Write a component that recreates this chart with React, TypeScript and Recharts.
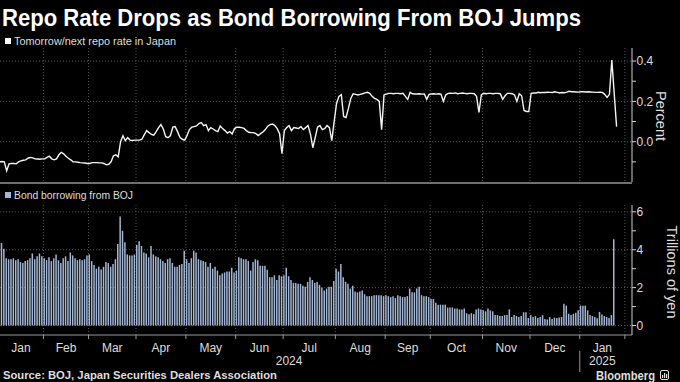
import React from 'react';
import { ComposedChart, Line, Bar, XAxis, YAxis, CartesianGrid } from 'recharts';

const FONT = '"Liberation Sans", Arial, sans-serif';
const AXIS = '#9a9a9a';
const YAXIS = '#d0d0d0';
const GRID = '#555555';
const TEXT = '#dedede';
const BAR = '#a3b7d5';

// ---- categories ----
const monthNames = ['Jan', 'Feb', 'Mar', 'Apr', 'May', 'Jun', 'Jul', 'Aug', 'Sep', 'Oct', 'Nov', 'Dec', 'Jan'];
const monthYear = [0, 0, 0, 0, 0, 0, 0, 0, 0, 0, 0, 0, 1];
const yearNames = ['2024', '2025'];
// trading days shown per month (Jan 2024 starts Jan 4)
const businessDaysPerMonth = [19, 19, 20, 21, 21, 20, 22, 21, 19, 22, 20, 21, 19];

// ---- Tomorrow/next repo rate in Japan (%) ----
const repoJan24 = [-0.1, -0.098, -0.1, -0.145, -0.11, -0.108, -0.108, -0.11, -0.1, -0.095, -0.092, -0.09, -0.082, -0.078, -0.08, -0.085, -0.086, -0.087, -0.085];
const repoFeb24 = [-0.085, -0.078, -0.072, -0.085, -0.09, -0.085, -0.065, -0.053, -0.06, -0.072, -0.082, -0.09, -0.1, -0.1, -0.102, -0.104, -0.105, -0.106, -0.108];
const repoMar24 = [-0.108, -0.104, -0.104, -0.104, -0.105, -0.105, -0.108, -0.115, -0.112, -0.1, -0.07, -0.065, -0.075, 0.0, 0.03, 0.005, 0.02, 0.008, 0.006, 0.008];
const repoApr24 = [0.008, 0.008, 0.012, 0.035, 0.055, 0.045, 0.036, 0.032, 0.05, 0.07, 0.085, 0.063, 0.025, 0.02, 0.03, 0.072, 0.075, 0.05, 0.022, 0.012, 0.008];
const repoMay24 = [0.03, 0.06, 0.072, 0.075, 0.078, 0.09, 0.095, 0.08, 0.085, 0.055, 0.07, 0.063, 0.055, 0.05, 0.078, 0.065, 0.055, 0.043, 0.05, 0.038, 0.065];
const repoJun24 = [0.072, 0.072, 0.07, 0.066, 0.055, 0.047, 0.045, 0.045, 0.04, 0.03, 0.04, 0.048, 0.06, 0.077, 0.085, 0.088, 0.08, 0.065, 0.04, -0.06];
const repoJul24 = [0.055, 0.07, 0.08, 0.055, 0.07, 0.068, 0.065, 0.075, 0.06, 0.07, 0.08, 0.038, -0.03, 0.02, 0.072, 0.08, 0.06, 0.065, 0.08, 0.07, 0.005, 0.1];
const repoAug24 = [0.19, 0.225, 0.233, 0.125, 0.12, 0.165, 0.215, 0.238, 0.235, 0.232, 0.235, 0.238, 0.242, 0.245, 0.24, 0.225, 0.215, 0.21, 0.2, 0.06, 0.232];
const repoSep24 = [0.236, 0.24, 0.24, 0.238, 0.24, 0.24, 0.238, 0.24, 0.225, 0.21, 0.245, 0.238, 0.237, 0.237, 0.238, 0.236, 0.237, 0.21, 0.235];
const repoOct24 = [0.237, 0.238, 0.236, 0.238, 0.236, 0.2, 0.232, 0.24, 0.241, 0.24, 0.242, 0.238, 0.24, 0.242, 0.24, 0.238, 0.24, 0.24, 0.238, 0.225, 0.145, 0.232];
const repoNov24 = [0.24, 0.238, 0.24, 0.24, 0.238, 0.24, 0.24, 0.238, 0.21, 0.228, 0.24, 0.24, 0.238, 0.232, 0.2, 0.238, 0.228, 0.155, 0.15, 0.15];
const repoDec24 = [0.24, 0.242, 0.242, 0.245, 0.243, 0.245, 0.244, 0.246, 0.245, 0.244, 0.248, 0.245, 0.242, 0.244, 0.243, 0.246, 0.25, 0.248, 0.248, 0.247, 0.246];
const repoJan25 = [0.248, 0.248, 0.247, 0.248, 0.247, 0.246, 0.245, 0.245, 0.246, 0.244, 0.235, 0.22, 0.235, 0.405, 0.24, 0.075];

// ---- Bond borrowing from BOJ (trillions of yen) ----
const bondJan24 = [4.5, 4.35, 4.05, 3.55, 3.5, 3.5, 3.55, 3.45, 3.5, 3.35, 3.3, 3.4, 3.45, 3.55, 3.8, 3.5, 3.65, 3.8, 3.65];
const bondFeb24 = [3.55, 3.45, 3.6, 3.4, 3.55, 3.75, 3.45, 3.3, 3.55, 3.65, 3.4, 3.85, 3.7, 3.55, 3.45, 3.5, 3.45, 3.5, 3.7];
const bondMar24 = [3.75, 3.4, 3.2, 3.0, 3.1, 2.95, 3.1, 3.35, 3.3, 3.1, 3.25, 3.5, 4.3, 5.75, 5.0, 4.4, 3.75, 3.7, 3.7, 3.75];
const bondApr24 = [4.25, 4.45, 4.2, 3.85, 3.8, 3.6, 4.2, 3.75, 3.65, 3.6, 3.5, 3.4, 3.3, 3.5, 3.55, 3.3, 3.1, 3.1, 3.2, 3.25, 3.95];
const bondMay24 = [3.5, 3.3, 3.55, 3.95, 3.85, 3.5, 3.45, 3.4, 3.35, 3.1, 3.3, 3.0, 3.1, 2.9, 2.65, 2.75, 2.8, 2.85, 2.85, 3.05, 2.8];
const bondJun24 = [2.9, 3.6, 3.55, 3.5, 3.5, 3.4, 2.9, 3.35, 3.5, 3.45, 3.15, 3.15, 3.15, 2.95, 2.55, 2.55, 2.65, 2.4, 2.65, 2.6];
const bondJul24 = [2.65, 3.05, 2.6, 2.4, 2.25, 2.25, 2.2, 2.2, 2.1, 2.05, 2.3, 2.55, 2.4, 2.25, 2.3, 2.15, 2.0, 1.85, 1.95, 2.05, 2.05, 2.35];
const bondAug24 = [3.0, 2.85, 3.25, 2.55, 2.3, 2.2, 1.95, 2.1, 1.8, 1.75, 1.8, 1.85, 1.65, 1.55, 1.55, 1.55, 1.6, 1.6, 1.6, 1.6, 1.55];
const bondSep24 = [1.6, 1.55, 1.5, 1.55, 1.45, 1.6, 1.55, 1.5, 1.5, 1.55, 1.95, 1.75, 1.75, 1.95, 2.05, 1.6, 1.55, 1.55, 1.5];
const bondOct24 = [1.4, 1.4, 1.2, 1.1, 1.1, 1.1, 1.1, 0.95, 0.95, 0.95, 0.9, 0.9, 0.85, 0.85, 0.9, 0.65, 0.6, 0.65, 0.6, 0.85, 0.9, 0.85];
const bondNov24 = [0.8, 0.75, 0.9, 0.8, 0.75, 0.55, 0.55, 0.5, 0.5, 0.55, 0.55, 0.85, 0.45, 0.55, 0.5, 0.45, 0.5, 0.7, 0.7, 0.4];
const bondDec24 = [0.55, 0.45, 0.5, 0.4, 0.45, 0.55, 0.35, 0.32, 0.45, 0.35, 0.42, 0.4, 0.42, 0.45, 1.15, 1.05, 0.62, 0.55, 0.62, 0.68, 0.8];
const bondJan25 = [1.05, 1.05, 1.05, 0.8, 0.55, 0.5, 0.45, 0.38, 0.72, 0.58, 0.5, 0.45, 0.4, 0.55, 4.55];

const repoRate = [repoJan24, repoFeb24, repoMar24, repoApr24, repoMay24, repoJun24, repoJul24, repoAug24, repoSep24, repoOct24, repoNov24, repoDec24, repoJan25];
const bondBorrowing = [bondJan24, bondFeb24, bondMar24, bondApr24, bondMay24, bondJun24, bondJul24, bondAug24, bondSep24, bondOct24, bondNov24, bondDec24, bondJan25];

// ---- axis ticks ----
const repoTicks = [-0.1, 0, 0.1, 0.2, 0.3, 0.4];
const repoTickLabels = ['', '0.0', '', '0.2', '', '0.4'];
const repoGrid = [0, 0.2, 0.4];
const bondTicks = [0, 1, 2, 3, 4, 5, 6];
const bondTickLabels = ['0', '', '2', '', '4', '', '6'];
const bondGrid = [0, 2, 4, 6];

// ---- build table ----
type Row = { i: number; repo: number | null; bond: number | null };
const rows: Row[] = [];
const monthEdges: number[] = [];
const monthMids: number[] = [];
let cursor = 0;
businessDaysPerMonth.forEach((n, m) => {
  for (let k = 0; k < n; k++) {
    const r = repoRate[m][k];
    const b = bondBorrowing[m][k];
    if (r === undefined && b === undefined) continue;
    rows.push({ i: cursor + k, repo: r ?? null, bond: b ?? null });
  }
  monthMids.push(cursor - 0.5 + n / 2);
  cursor += n;
  monthEdges.push(cursor - 0.5);
});
const yearMids: number[] = yearNames.map((_, y) => {
  let lo = Infinity;
  let hi = -Infinity;
  let c = 0;
  businessDaysPerMonth.forEach((n, m) => {
    if (monthYear[m] === y) {
      lo = Math.min(lo, c - 0.5);
      hi = Math.max(hi, c + n - 0.5);
    }
    c += n;
  });
  return (lo + hi) / 2;
});
const xTicks = Array.from(new Set([...monthEdges, ...monthMids, ...yearMids])).sort((a, b) => a - b);

const X_DOMAIN: [number, number] = [0.19, 266.5];

const XTick = (props: any) => {
  const { x, y, payload } = props;
  const v = payload.value;
  const out: any[] = [];
  const e = monthEdges.indexOf(v);
  if (e >= 0) {
    out.push(<line key="t" x1={x} x2={x} y1={y} y2={y + 4} stroke={AXIS} strokeWidth={1} />);
    if (e < monthYear.length - 1 && monthYear[e] !== monthYear[e + 1]) {
      out.push(<line key="d" x1={x} x2={x} y1={y + 16} y2={y + 37} stroke={AXIS} strokeWidth={1} />);
    }
  }
  const m = monthMids.indexOf(v);
  if (m >= 0) {
    out.push(
      <text key="m" x={x} y={y + 12.5} dy="0.35em" textAnchor="middle" fontSize={12} fontFamily={FONT} fill={TEXT}>
        {monthNames[m]}
      </text>
    );
  }
  const yr = yearMids.indexOf(v);
  if (yr >= 0) {
    out.push(
      <text key="y" x={x} y={y + 25.5} dy="0.35em" textAnchor="middle" fontSize={12} fontFamily={FONT} fill={TEXT}>
        {yearNames[yr]}
      </text>
    );
  }
  return <g>{out}</g>;
};

const makeYTick = (ticks: number[], labels: string[]) => (props: any) => {
  const { x, y, payload } = props;
  const idx = ticks.indexOf(payload.value);
  const label = idx >= 0 ? labels[idx] : '';
  return (
    <g>
      <line x1={x} x2={x + 4} y1={y} y2={y} stroke={YAXIS} strokeWidth={1} />
      {label ? (
        <text x={x + 4.5} y={y} dy="0.36em" textAnchor="start" fontSize={12} fontFamily={FONT} fill={TEXT}>
          {label}
        </text>
      ) : null}
    </g>
  );
};
const RepoTick = makeYTick(repoTicks, repoTickLabels);
const BondTick = makeYTick(bondTicks, bondTickLabels);

export default function App() {
  return (
    <div style={{ position: 'relative', width: 680, height: 382, background: '#000', overflow: 'hidden', fontFamily: FONT }}>
      <style>{'body{margin:0;background:#000;}'}</style>

      <div style={{ position: 'absolute', left: 0, top: 48 }}>
        <ComposedChart width={680} height={134} data={rows} margin={{ top: 0, right: 0, bottom: 0, left: 0 }}>
          <CartesianGrid stroke={GRID} strokeDasharray="1 2" horizontalValues={repoGrid} verticalValues={monthEdges} />
          <XAxis type="number" dataKey="i" domain={X_DOMAIN} allowDataOverflow hide />
          <YAxis
            orientation="right"
            width={48}
            type="number"
            domain={[-0.2, 0.465]}
            allowDataOverflow
            ticks={repoTicks}
            interval={0}
            tick={RepoTick}
            tickLine={false}
            tickSize={0}
            tickMargin={0}
            axisLine={{ stroke: YAXIS, strokeWidth: 1 }}
          />
          <Line type="linear" dataKey="repo" stroke="#f4f4f4" strokeWidth={1.4} dot={false} activeDot={false} isAnimationActive={false} />
        </ComposedChart>
      </div>

      <div style={{ position: 'absolute', left: 0, top: 205 }}>
        <ComposedChart width={680} height={177} data={rows} margin={{ top: 0, right: 0, bottom: 0, left: 0 }}>
          <CartesianGrid stroke={GRID} strokeDasharray="1 2" horizontalValues={bondGrid} verticalValues={monthEdges} />
          <XAxis
            type="number"
            dataKey="i"
            domain={X_DOMAIN}
            allowDataOverflow
            ticks={xTicks}
            interval={0}
            tick={XTick}
            tickLine={false}
            tickSize={0}
            tickMargin={0}
            height={47}
            axisLine={{ stroke: AXIS, strokeWidth: 1 }}
          />
          <YAxis
            orientation="right"
            width={48}
            type="number"
            domain={[-0.5, 6.36]}
            allowDataOverflow
            ticks={bondTicks}
            interval={0}
            tick={BondTick}
            tickLine={false}
            tickSize={0}
            tickMargin={0}
            axisLine={{ stroke: YAXIS, strokeWidth: 1 }}
          />
          <Bar dataKey="bond" fill={BAR} barSize={1.5} isAnimationActive={false} />
        </ComposedChart>
      </div>

      <svg width={680} height={382} style={{ position: 'absolute', left: 0, top: 0, pointerEvents: 'none' }}>
        <text x={2} y={26} fontSize={23} fontWeight="bold" fontFamily={FONT} fill="#ffffff" textLength={579} lengthAdjust="spacingAndGlyphs">
          Repo Rate Drops as Bond Borrowing From BOJ Jumps
        </text>
        <rect x={5} y={38} width={6} height={6} fill="#ffffff" />
        <text x={14} y={45} fontSize={11} fontFamily={FONT} fill={TEXT} textLength={162} lengthAdjust="spacingAndGlyphs">
          Tomorrow/next repo rate in Japan
        </text>
        <rect x={0} y={182} width={632} height={2} fill="#707070" />
        <rect x={5} y={192} width={6} height={6} fill={BAR} />
        <text x={14} y={199} fontSize={11} fontFamily={FONT} fill={TEXT} textLength={119} lengthAdjust="spacingAndGlyphs">
          Bond borrowing from BOJ
        </text>
        <text x={656} y={116} transform="rotate(90 656 116)" textAnchor="middle" fontSize={14.5} fontFamily={FONT} fill={TEXT}>
          Percent
        </text>
        <text x={667} y={272} transform="rotate(90 667 272)" textAnchor="middle" fontSize={14.5} fontFamily={FONT} fill={TEXT}>
          Trillions of yen
        </text>
        <text x={3} y={379} fontSize={10} fontWeight="bold" fontFamily={FONT} fill={TEXT} textLength={274} lengthAdjust="spacingAndGlyphs">
          Source: BOJ, Japan Securities Dealers Association
        </text>
        <text x={596} y={379.5} fontSize={12.5} fontWeight="bold" fontFamily={FONT} fill={TEXT} textLength={59} lengthAdjust="spacingAndGlyphs">
          Bloomberg
        </text>
        <rect x={660.5} y={370.5} width={8} height={9} rx={1.5} fill="none" stroke={TEXT} strokeWidth={1} />
        <rect x={662} y={375} width={1.2} height={3} fill={TEXT} />
        <rect x={664} y={373} width={1.2} height={5} fill={TEXT} />
        <rect x={666} y={374} width={1.2} height={4} fill={TEXT} />
      </svg>
    </div>
  );
}
